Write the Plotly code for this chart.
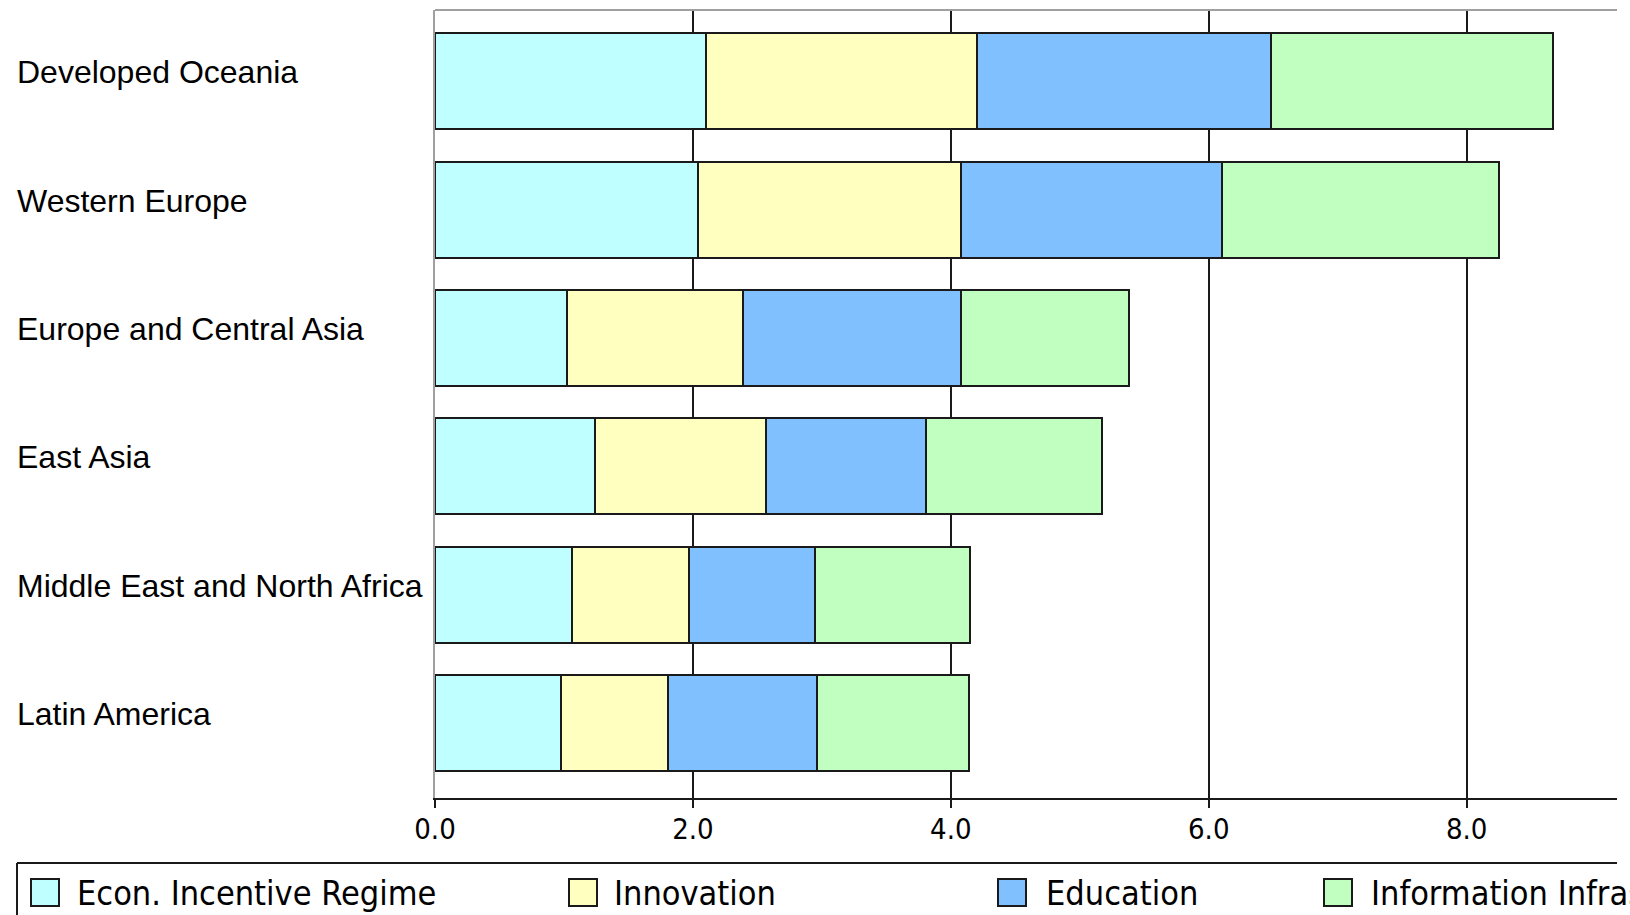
import plotly.graph_objects as go

categories = ["Developed Oceania", "Western Europe", "Europe and Central Asia",
              "East Asia", "Middle East and North Africa", "Latin America"]
series_names = ["Econ. Incentive Regime", "Innovation", "Education", "Information Infrastructure"]
econ = [2.10, 2.04, 1.02, 1.24, 1.06, 0.98]
innovation = [2.10, 2.04, 1.37, 1.33, 0.91, 0.83]
education = [2.28, 2.02, 1.69, 1.24, 0.98, 1.15]
info_infra = [2.19, 2.15, 1.30, 1.36, 1.20, 1.18]
series_values = [econ, innovation, education, info_infra]
colors = ["#C0FFFF", "#FFFFC0", "#80C0FF", "#C0FFC0"]
x_ticks = [0, 2, 4, 6, 8]
x_ticklabels = ["0.0", "2.0", "4.0", "6.0", "8.0"]

W, H = 1630, 915
L, R, T, B = 435, 13, 10, 117
PW = W - L - R
PH = H - T - B

NARROW = "DejaVu Sans Condensed, Liberation Sans Narrow, Arial Narrow"


def px2paper_x(px):
    return (px - L) / PW


def px2paper_y(py):
    return (H - B - py) / PH


fig = go.Figure()
for name, vals, col in zip(series_names, series_values, colors):
    fig.add_trace(go.Bar(
        y=categories, x=vals, name=name, orientation="h",
        marker=dict(color=col, line=dict(color="#1a1a1a", width=2)),
        showlegend=False,
    ))

annotations = []
for c in categories:
    annotations.append(dict(
        x=px2paper_x(15), xref="paper", y=c, yref="y", text=c,
        showarrow=False, xanchor="left", yanchor="middle", yshift=9,
        font=dict(family="Liberation Sans", size=32, color="#000000"),
    ))

shapes = [
    dict(type="line", xref="paper", yref="paper", x0=0, x1=1, y0=1, y1=1,
         line=dict(color="#a0a0a0", width=2), layer="above"),
    dict(type="line", xref="paper", yref="paper", x0=px2paper_x(17), x1=1,
         y0=px2paper_y(863), y1=px2paper_y(863), line=dict(color="#1a1a1a", width=2)),
    dict(type="line", xref="paper", yref="paper", x0=px2paper_x(17), x1=px2paper_x(17),
         y0=px2paper_y(863), y1=px2paper_y(960), line=dict(color="#1a1a1a", width=2)),
]

swatch_x = [31, 569, 998, 1324]
text_x = [75, 612, 1044, 1369]
for name, col, sx, tx in zip(series_names, colors, swatch_x, text_x):
    shapes.append(dict(type="rect", xref="paper", yref="paper",
                       x0=px2paper_x(sx), x1=px2paper_x(sx + 28),
                       y0=px2paper_y(906), y1=px2paper_y(879),
                       fillcolor=col, line=dict(color="#1a1a1a", width=2)))
    annotations.append(dict(
        x=px2paper_x(tx), xref="paper", y=px2paper_y(893), yref="paper", text=name,
        showarrow=False, xanchor="left", yanchor="middle",
        font=dict(family=NARROW, size=34, color="#000000"),
    ))

fig.update_layout(
    width=W, height=H,
    margin=dict(l=L, r=R, t=T, b=B, pad=0),
    barmode="stack", bargap=0.25,
    plot_bgcolor="white", paper_bgcolor="white",
    shapes=shapes, annotations=annotations,
    xaxis=dict(
        range=[0, PW / 128.96], tickvals=x_ticks, ticktext=x_ticklabels,
        showgrid=True, gridcolor="#1a1a1a", gridwidth=2, zeroline=False,
        showline=True, linecolor="#1a1a1a", linewidth=2,
        ticks="outside", ticklen=8, tickwidth=2, tickcolor="#1a1a1a",
        tickfont=dict(family=NARROW, size=29, color="#000000"),
        ticklabelstandoff=-4,
        fixedrange=True,
    ),
    yaxis=dict(
        categoryorder="array", categoryarray=categories,
        range=[5.585, -0.556], showticklabels=False, ticks="",
        showgrid=False, zeroline=False,
        showline=True, linecolor="#a0a0a0", linewidth=2,
        fixedrange=True,
    ),
)

fig.write_html("out.html", config={"displayModeBar": False},
               post_script="document.body.style.margin='0';document.body.style.overflow='hidden';")
